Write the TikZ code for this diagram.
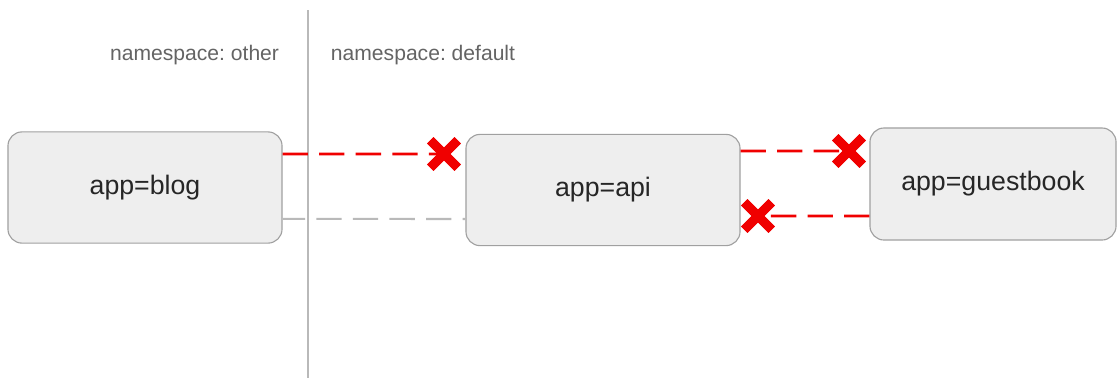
\documentclass[tikz,border=0pt]{standalone}
\usepackage{fontspec}
\setmainfont{Liberation Sans}
\usepackage{tikz}
\usetikzlibrary{positioning,shapes.misc}
\definecolor{cajafondo}{RGB}{238,238,238}
\definecolor{cajaborde}{RGB}{160,160,160}
\definecolor{bloqueo}{RGB}{240,0,0}
\definecolor{permitido}{RGB}{185,185,185}
\definecolor{gristexto}{RGB}{100,100,100}
\frenchspacing

\begin{document}
\begin{tikzpicture}[x=0.025cm, y=-0.025cm,
  app/.style={draw=cajaborde, fill=cajafondo, rounded corners=10pt, line width=0.8pt,
    minimum width=6.85cm, minimum height=2.78cm, font=\fontsize{19}{22}\selectfont, text=black!85},
  ns/.style={font=\fontsize{15}{18}\selectfont, text=gristexto},
  nope/.style={cross out, draw=bloqueo, line width=6.5pt, minimum size=13pt, inner sep=0pt},
  deny/.style={draw=bloqueo, line width=2pt, dash pattern=on 18pt off 8pt},
  allow/.style={draw=permitido, line width=1.5pt, dash pattern=on 18pt off 8pt}
]
\useasboundingbox (0,0) rectangle (1117,378);
% namespaces
\draw[permitido, line width=0.8pt] (308,10) -- (308,378);
\node[ns, anchor=east] (nsother) at (284,55) {namespace: other};
\node[ns, anchor=west] (nsdefault) at (326,55) {namespace: default};
% pods
\node[app] (blog) at (145,187.5) {app=blog};
\node[app] (api) at (603,190) {app=api};
\node[app, minimum width=6.15cm, minimum height=2.8cm] (gb) at (993,184) {app=guestbook};
% traffic
\node[nope] (xapi) at (444,154) {};
\node[nope] (xgb) at (849,151) {};
\node[nope] (xback) at (758,216) {};
\draw[deny] ([yshift=23.8pt]blog.east) -- (xapi.center);
\draw[allow, dash pattern=on 18pt off 8pt, dash phase=2pt] ([yshift=-22.3pt]blog.east) -- ([yshift=-20.6pt]api.west);
\draw[deny] ([yshift=27.7pt]api.east) -- (xgb.center);
\draw[deny] ([yshift=-22.7pt]gb.west) -- (xback.center);
\node[nope] at (xapi) {};
\node[nope] at (xgb) {};
\node[nope] at (xback) {};
\end{tikzpicture}
\end{document}
